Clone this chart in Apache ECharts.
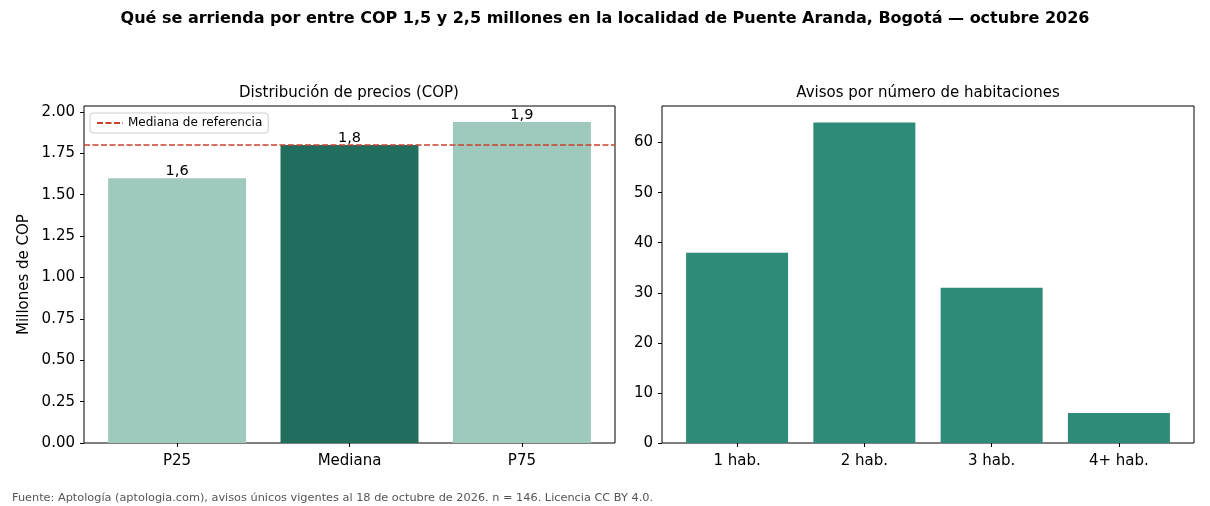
<!DOCTYPE html>
<html>
<head>
<meta charset="utf-8">
<script src="https://cdn.jsdelivr.net/npm/echarts@6/dist/echarts.min.js"></script>
<style>
  html, body { margin: 0; padding: 0; background: #fff; }
  #chart { width: 1210px; height: 506px; }
</style>
</head>
<body>
<div id="chart"></div>
<script>
// datos
const priceCats = ["P25", "Mediana", "P75"];
const priceValues = [1.6, 1.8, 1.94];
const refMedian = 1.8;

const roomCats = ["1 hab.", "2 hab.", "3 hab.", "4+ hab."];
const roomCounts = [38, 64, 31, 6];

const FONT = "DejaVu Sans";
const LIGHT = "#9ec9bc";
const DARK = "#216e5e";
const ROOMS = "#2e8b77";
const RED = "#c8412f";

const priceColors = [LIGHT, DARK, LIGHT];

const chart = echarts.init(document.getElementById("chart"));

// eje x numérico para reproducir los márgenes de matplotlib
const leftMin = -0.54, leftMax = priceCats.length - 1 + 0.54;
const rightMin = -0.59, rightMax = roomCats.length - 1 + 0.59;

function xAxisFor(idx, cats, min, max) {
  const ticks = cats.map((c, i) => i);
  return {
    type: "value",
    gridIndex: idx,
    min: min,
    max: max,
    splitLine: { show: false },
    axisLine: { show: false, onZero: false },
    axisTick: { show: true, customValues: ticks, length: 4, lineStyle: { color: "#000" } },
    axisLabel: {
      customValues: ticks,
      formatter: v => cats[Math.round(v)],
      color: "#000", fontFamily: FONT, fontSize: 15, margin: 11
    }
  };
}

function yAxisFor(idx, max, interval, fmt, name) {
  return {
    type: "value",
    gridIndex: idx,
    min: 0,
    max: max,
    interval: interval,
    name: name,
    nameLocation: "middle",
    nameGap: 52,
    nameTextStyle: { color: "#000", fontFamily: FONT, fontSize: 15 },
    splitLine: { show: false },
    axisLine: { show: false, onZero: false },
    axisTick: { show: true, length: 4, lineStyle: { color: "#000" } },
    axisLabel: {
      formatter: fmt, showMaxLabel: false,
      color: "#000", fontFamily: FONT, fontSize: 15, margin: 9
    }
  };
}

const option = {
  backgroundColor: "#fff",
  animation: false,
  textStyle: { fontFamily: FONT },
  title: [
    {
      text: "Qué se arrienda por entre COP 1,5 y 2,5 millones en la localidad de Puente Aranda, Bogotá — octubre 2026",
      left: "center", top: 6,
      textStyle: { fontFamily: FONT, fontSize: 16, fontWeight: "bold", color: "#000" }
    },
    {
      text: "Distribución de precios (COP)",
      left: 344, top: 81, textAlign: "center",
      textStyle: { fontFamily: FONT, fontSize: 15, fontWeight: "normal", color: "#000" }
    },
    {
      text: "Avisos por número de habitaciones",
      left: 923, top: 81, textAlign: "center",
      textStyle: { fontFamily: FONT, fontSize: 15, fontWeight: "normal", color: "#000" }
    },
    {
      text: "Fuente: Aptología (aptologia.com), avisos únicos vigentes al 18 de octubre de 2026. n = 146. Licencia CC BY 4.0.",
      left: 7, top: 488,
      textStyle: { fontFamily: FONT, fontSize: 11.3, fontWeight: "normal", color: "#555" }
    }
  ],
  legend: {
    data: ["Mediana de referencia"],
    left: 90, top: 113,
    padding: [4, 6, 4, 6],
    itemWidth: 26, itemHeight: 10, itemGap: 6,
    backgroundColor: "#fff",
    borderColor: "#cccccc", borderWidth: 1, borderRadius: 3,
    itemStyle: { opacity: 0 },
    textStyle: { fontFamily: FONT, fontSize: 12, color: "#000" }
  },
  grid: [
    { left: 84, top: 106, width: 531, height: 337, show: true, borderColor: "#000", borderWidth: 1, backgroundColor: "transparent" },
    { left: 662, top: 106, width: 532, height: 337, show: true, borderColor: "#000", borderWidth: 1, backgroundColor: "transparent" }
  ],
  xAxis: [
    xAxisFor(0, priceCats, leftMin, leftMax),
    xAxisFor(1, roomCats, rightMin, rightMax)
  ],
  yAxis: [
    yAxisFor(0, 2.036, 0.25, v => v.toFixed(2), "Millones de COP"),
    yAxisFor(1, 67.3, 10, v => String(v), "")
  ],
  series: [
    {
      type: "bar",
      xAxisIndex: 0, yAxisIndex: 0,
      barWidth: 138,
      data: priceValues.map((v, i) => ({ value: [i, v], itemStyle: { color: priceColors[i] } })),
      label: {
        show: true, position: "top", distance: -1,
        formatter: p => p.value[1].toFixed(1).replace(".", ","),
        color: "#000", fontFamily: FONT, fontSize: 14.5
      },
      z: 2
    },
    {
      name: "Mediana de referencia",
      type: "line",
      xAxisIndex: 0, yAxisIndex: 0,
      data: [[leftMin, refMedian], [leftMax, refMedian]],
      symbol: "none",
      lineStyle: { color: RED, width: 1.5, type: [6, 2.5] },
      itemStyle: { color: RED },
      z: 3
    },
    {
      type: "bar",
      xAxisIndex: 1, yAxisIndex: 1,
      barWidth: 102,
      data: roomCounts.map((v, i) => [i, v]),
      itemStyle: { color: ROOMS }
    }
  ]
};

chart.setOption(option);
</script>
</body>
</html>
